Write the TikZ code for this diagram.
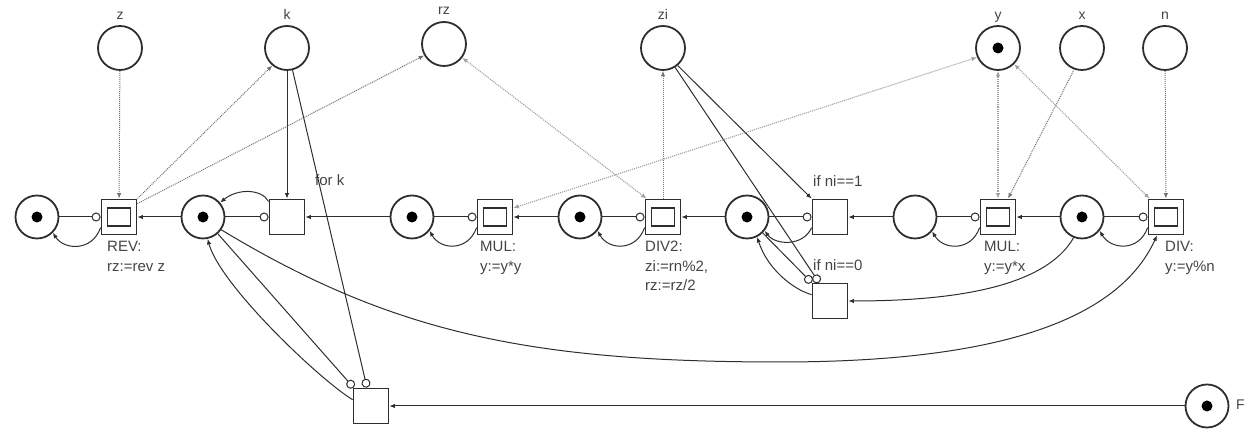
\documentclass[tikz,border=0pt]{standalone}
\usepackage{fontspec}
\setmainfont{Liberation Sans}
\usetikzlibrary{arrows.meta}
\definecolor{dk}{HTML}{2E2E2E}
\definecolor{dotc}{HTML}{707070}
\definecolor{ltc}{HTML}{A0A0A0}
\definecolor{txt}{HTML}{444444}
\begin{document}
\begin{tikzpicture}[x=1pt,y=1pt,
 place/.style={circle, draw=dk, line width=1.8pt, minimum size=43pt, inner sep=0pt},
 tplace/.style={place, minimum size=44pt},
 tok/.style={place, path picture={\fill[black] (path picture bounding box.center) circle (5.5pt);}},
 trans/.style={rectangle, draw=dk, line width=1.8pt, minimum size=35pt, inner sep=0pt},
 dtrans/.style={trans, path picture={\draw[dk, line width=1.3pt] ([shift={(-11.5pt,-9pt)}]path picture bounding box.center) rectangle ([shift={(11.5pt,9pt)}]path picture bounding box.center);}},
 arc/.style={draw=dk, line width=1pt, -{Latex[length=5.5pt,width=4.5pt]}},
 inh/.style={draw=dk, line width=1pt, -{Circle[open,length=9pt,width=9pt,line width=1pt]}},
 rd/.style={draw=dotc, line width=1pt, densely dotted, -{Latex[length=5.5pt,width=4.5pt]}},
 rdd/.style={draw=ltc, line width=1.1pt, densely dotted, {Latex[length=5.5pt,width=4.5pt]}-{Latex[length=5.5pt,width=4.5pt]}},
 lab/.style={font=\fontsize{15}{19.5}\selectfont, text=txt, inner sep=0pt, align=left},
 vlab/.style={font=\fontsize{14}{16}\selectfont, text=txt, inner sep=0pt},
]
\useasboundingbox (0,0) rectangle (1254,435);

% main row
\node[tok] (P0) at (37,218) {};
\node[dtrans] (REV) at (119,218) {};
\node[tok] (P1) at (203,218) {};
\node[trans] (T1) at (287,218) {};
\node[tok] (P2) at (412,218) {};
\node[dtrans] (MUL1) at (495,218) {};
\node[tok] (P3) at (580,218) {};
\node[dtrans] (DIV2) at (663,218) {};
\node[tok] (P4) at (747,218) {};
\node[trans] (T2) at (830,218) {};
\node[place] (P5) at (915,218) {};
\node[dtrans] (MUL2) at (998,218) {};
\node[tok] (P6) at (1082,218) {};
\node[dtrans] (DIV) at (1166,218) {};
\node[trans] (T3) at (830,134) {};
\node[trans] (TB) at (371,29) {};
\node[tok] (F) at (1207,29) {};

% variable places
\node[tplace] (z) at (120,387) {};
\node[tplace] (k) at (287,387) {};
\node[tplace] (rz) at (444,391) {};
\node[tplace] (zi) at (663,387) {};
\node[tplace, path picture={\fill[black] (path picture bounding box.center) circle (5.5pt);}] (y) at (998,387) {};
\node[tplace] (x) at (1082,387) {};
\node[tplace] (n) at (1165,387) {};

% labels
\node[vlab, anchor=base] (lz) at (120,415) {z};
\node[vlab, anchor=base] (lk) at (287,415) {k};
\node[vlab, anchor=base] (lrz) at (444,420) {rz};
\node[vlab, anchor=base] (lzi) at (663,415) {zi};
\node[vlab, anchor=base] (ly) at (998,415) {y};
\node[vlab, anchor=base] (lx) at (1082,415) {x};
\node[vlab, anchor=base] (ln) at (1165,415) {n};
\node[vlab, anchor=base west] (lF) at (1236,25) {F};

\node[lab, anchor=north west] (lREV) at (107,194) {REV:\\rz:=rev z};
\node[lab, anchor=north west] (lMUL1) at (480,194) {MUL:\\y:=y*y};
\node[lab, anchor=north west] (lDIV2) at (645,194) {DIV2:\\zi:=rn\%2,\\rz:=rz/2};
\node[lab, anchor=north west] (lMUL2) at (984,194) {MUL:\\y:=y*x};
\node[lab, anchor=north west] (lDIV) at (1165,194) {DIV:\\y:=y\%n};
\node[lab, anchor=base west] (lfork) at (315,249) {for k};
\node[lab, anchor=base west] (lT2) at (813,248) {if ni==1};
\node[lab, anchor=base west] (lT3) at (813,164) {if ni==0};

% straight arrows along the main row
\draw[arc] (P1) -- (REV);
\draw[arc] (P2) -- (T1);
\draw[arc] (P3) -- (MUL1);
\draw[arc] (P4) -- (DIV2);
\draw[arc] (P5) -- (T2);
\draw[arc] (P6) -- (MUL2);

% test arcs
\draw[inh] (P0) -- (REV);
\draw[inh] (P1) -- (T1);
\draw[inh] (P2) -- (MUL1);
\draw[inh] (P3) -- (DIV2);
\draw[inh] (P4) -- (T2);
\draw[inh] (P5) -- (MUL2);
\draw[inh] (P6) -- (DIV);

% return curves
\draw[arc] (REV.210) .. controls (92,183) and (64,185) .. (P0.-45);
\draw[arc] (MUL1.210) .. controls (468,183) and (440,185) .. (P2.-38);
\draw[arc] (DIV2.210) .. controls (636,183) and (608,185) .. (P3.-38);
\draw[arc] (T2.210) .. controls (803,188) and (775,190) .. (P4.-38);
\draw[arc] (MUL2.210) .. controls (971,183) and (943,185) .. (P5.-40);
\draw[arc] (DIV.210) .. controls (1139,183) and (1111,185) .. (P6.-38);
\draw[arc] (T1.140) .. controls (262,246) and (238,247) .. (P1.40);

% k and the loop transition
\draw[arc] (k) -- (T1);
\draw[inh] (k.-76) -- ([xshift=-4pt]TB.north);
\draw[inh] (P1) -- ([xshift=1pt]TB.north west);
\draw[arc] (TB.161) .. controls (320,55) and (220,150) .. (P1.-78);
\draw[arc] (F) -- (TB);
\draw[arc] (P1.-35) .. controls (392,102) and (530,73) .. (780,73) .. controls (980,73) and (1115,108) .. ([xshift=-9pt]DIV.south);

% ni branches
\draw[arc] (zi.-50) -- (T2.north west);
\draw[inh] (zi.-58) -- ([xshift=7.5pt]T3.north west);
\draw[inh] (P4) -- (T3.north west);
\draw[arc] (T3.161) .. controls (792,146) and (767,167) .. (P4.-63);
\draw[arc] (P6.-112) .. controls (1044,146) and (948,134) .. (T3.east);

% variable accesses
\draw[rd] (z) -- (REV);
\draw[rd] (REV.north east) -- (k.230);
\draw[rd] ([yshift=-5pt]REV.north east) -- (rz.210);
\draw[rdd] ([xshift=2pt]DIV2.north west) -- (rz.-37);
\draw[rd] (DIV2) -- (zi);
\draw[rdd] ([yshift=9pt]MUL1.east) -- (y.204);
\draw[rdd] (MUL2) -- (y);
\draw[rd] (x.250) -- ([xshift=10pt]MUL2.north);
\draw[rdd] ([xshift=2pt]DIV.north west) -- (y.-45);
\draw[rd] (n) -- (DIV);
\end{tikzpicture}
\end{document}
